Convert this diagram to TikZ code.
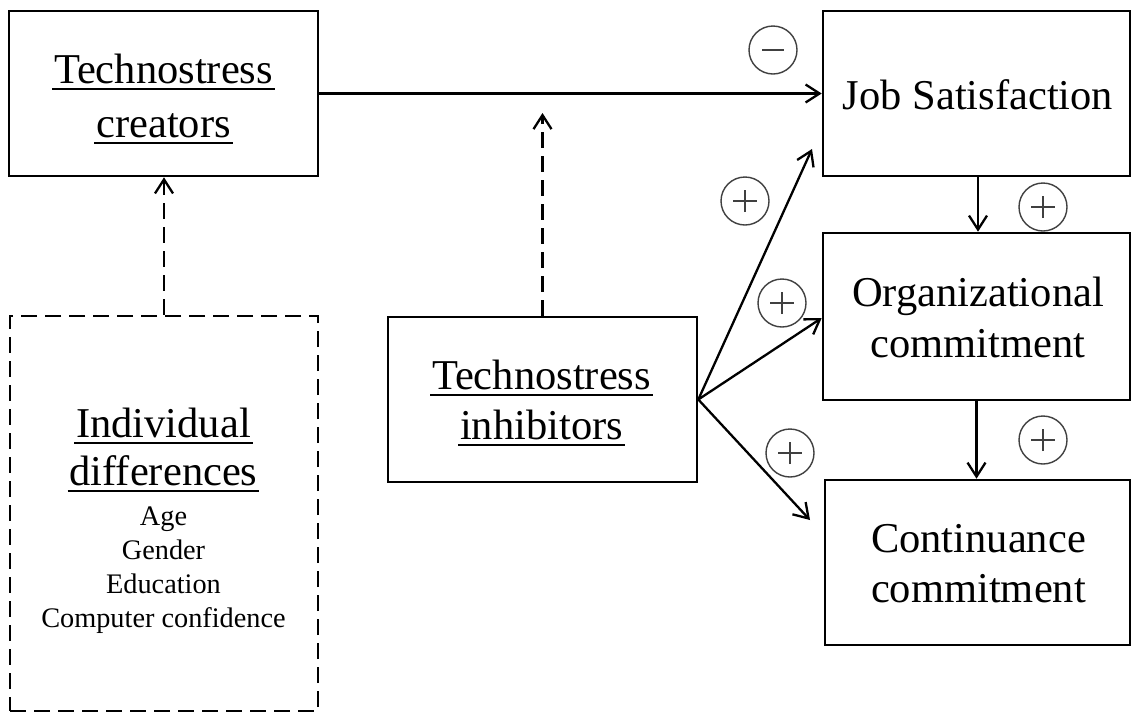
\documentclass[tikz,border=0pt]{standalone}
\usepackage{fontspec}
\setmainfont{Liberation Serif}
\usetikzlibrary{arrows.meta}
\newsavebox\ulbox
\newcommand\myul[1]{\sbox\ulbox{#1}\rlap{\hspace{-2pt}\rule[-7.4pt]{\dimexpr\wd\ulbox+4pt\relax}{2pt}}\usebox\ulbox}
\newcommand\bigf{\fontsize{42.5}{50}\selectfont}
\newcommand\smallf{\fontsize{28.3}{34}\selectfont}
\begin{document}
\begin{tikzpicture}[x=1pt,y=-1pt,
  box/.style={draw, line width=2.6pt, rectangle, inner sep=0pt},
  dbox/.style={box, dash pattern=on 16pt off 8pt},
  txt/.style={anchor=base, inner sep=0pt, font=\bigf},
  stxt/.style={anchor=base, inner sep=0pt, font=\smallf},
  arr/.style={line width=2.3pt, -{Straight Barb[length=14pt,width=18pt]}},
  darr/.style={arr, dash pattern=on 16pt off 8pt},
  sign/.style={circle, draw=black!75, line width=1.4pt, minimum size=48pt, inner sep=0pt},
  plus/.style={sign, path picture={\draw[black!75, line width=1.4pt]
      ([xshift=-12pt]path picture bounding box.center) -- ([xshift=12pt]path picture bounding box.center)
      ([yshift=-11pt]path picture bounding box.center) -- ([yshift=11pt]path picture bounding box.center);}},
  minus/.style={sign, path picture={\draw[black!75, line width=1.4pt]
      ([xshift=-11pt]path picture bounding box.center) -- ([xshift=11pt]path picture bounding box.center);}}
]
\useasboundingbox (0,0) rectangle (1132,713);

% boxes
\node[box, minimum width=309pt, minimum height=165pt] (tc) at (163.5,93.5) {};
\node[box, minimum width=307pt, minimum height=165pt] (js) at (976.5,93.5) {};
\node[box, minimum width=307pt, minimum height=167pt] (org) at (976.5,316.5) {};
\node[box, minimum width=305pt, minimum height=165pt] (cont) at (977.5,562.5) {};
\node[box, minimum width=309pt, minimum height=165pt] (ti) at (542.5,399.5) {};
\node[dbox, minimum width=308pt, minimum height=395pt] (indiv) at (164,513.5) {};

% texts
\node[txt] (tc1) at (163.5,83) {\myul{Technostress}};
\node[txt] (tc2) at (163.5,137) {\myul{creators}};
\node[txt] (js1) at (978,109) {Job Satisfaction};
\node[txt] (org1) at (978,306) {Organizational};
\node[txt] (org2) at (978,357) {commitment};
\node[txt] (cont1) at (978.5,552) {Continuance};
\node[txt] (cont2) at (978.5,602) {commitment};
\node[txt] (ti1) at (541.5,389) {\myul{Technostress}};
\node[txt] (ti2) at (541.5,439) {\myul{inhibitors}};
\node[txt] (id1) at (163.5,437) {\myul{Individual}};
\node[txt] (id2) at (163.5,485) {\myul{differences}};
\node[stxt] (id3) at (163.5,525) {Age};
\node[stxt] (id4) at (163.5,559) {Gender};
\node[stxt] (id5) at (163.5,593) {Education};
\node[stxt] (id6) at (163.5,627) {Computer confidence};

% connectors
\coordinate (mod) at (542.5,113);
\coordinate (e1) at (812,149);
\coordinate (e3) at (810,520);
\draw[arr] (tc.east) -- (js.west);
\draw[darr] (ti.north) -- (mod);
\draw[darr] (indiv.north) -- (indiv.north |- tc.south);
\draw[arr] (ti.east) -- (e1);
\draw[arr] (ti.east) -- ([yshift=-1.5pt]org.west);
\draw[arr] (ti.east) -- (e3);
\draw[arr] ([xshift=1.5pt]js.south) -- ([xshift=1.5pt]org.north);
\draw[arr] (org.south) -- (org.south |- cont.north);

% signs
\node[minus] (s0) at (773,50) {};
\node[plus] (s1) at (745,201) {};
\node[plus] (s2) at (782,303) {};
\node[plus] (s3) at (790,453) {};
\node[plus] (s4) at (1043,207) {};
\node[plus] (s5) at (1043,440) {};
\end{tikzpicture}
\end{document}
